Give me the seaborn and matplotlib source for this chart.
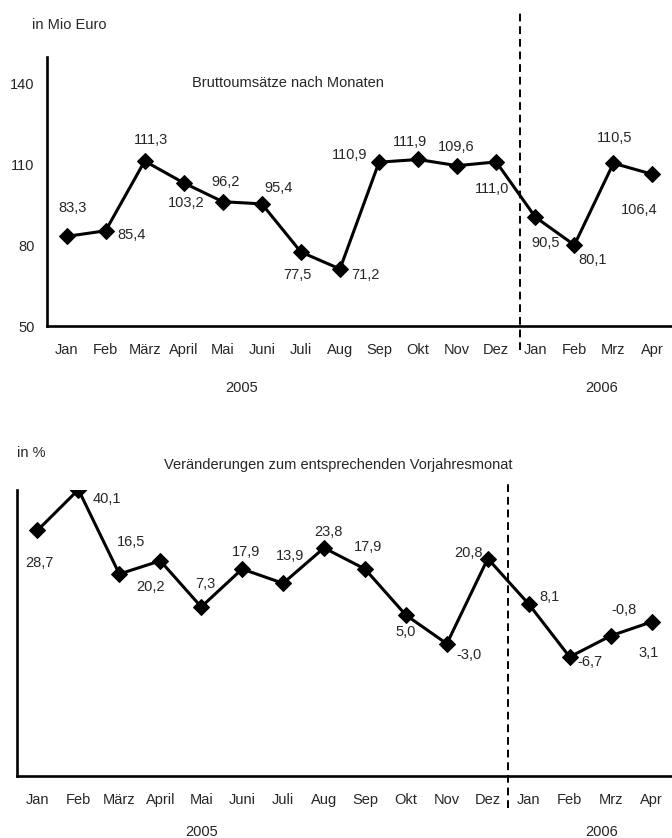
import matplotlib
matplotlib.use("Agg")
import matplotlib.pyplot as plt
import seaborn as sns
import pandas as pd

# Monthly data, Jan 2005 – Apr 2006
months = ["Jan", "Feb", "März", "April", "Mai", "Juni", "Juli", "Aug",
          "Sep", "Okt", "Nov", "Dez", "Jan", "Feb", "Mrz", "Apr"]
umsatz = [83.3, 85.4, 111.3, 103.2, 96.2, 95.4, 77.5, 71.2,
          110.9, 111.9, 109.6, 111.0, 90.5, 80.1, 110.5, 106.4]
veraenderung = [28.7, 40.1, 16.5, 20.2, 7.3, 17.9, 13.9, 23.8,
                17.9, 5.0, -3.0, 20.8, 8.1, -6.7, -0.8, 3.1]
umsatz_ticks = [50, 80, 110, 140]
years = ["2005", "2006"]

# label offsets in pixels (right, down) relative to each marker
umsatz_off = [(6, -28), (26, 4), (6, -21), (2, 20), (3, -20), (17, -16),
              (-3, 23), (25, 6), (-29, -7), (-8, -17), (-1, -19), (-4, 27),
              (10, 26), (18, 15), (1, -25), (-13, 36)]
veraend_off = [(2, 33), (28, 9), (12, -32), (-10, 26), (4, -23), (4, -17),
               (7, -27), (4, -16), (3, -22), (0, 17), (22, 11), (-19, -6),
               (21, -7), (20, 5), (13, -26), (-3, 31)]

sns.set_style("white")
plt.rcParams["font.family"] = ["Liberation Sans", "DejaVu Sans"]
plt.rcParams["font.size"] = 10.5

W, H = 672, 838
fig = plt.figure(figsize=(W / 100, H / 100), dpi=100)

def px_axes(left, top, right, bottom):
    return fig.add_axes([left / W, 1 - bottom / H, (right - left) / W, (bottom - top) / H])

ax1 = px_axes(47, 57, 672, 326)
ax2 = px_axes(17, 490, 672, 776)

df = pd.DataFrame({"i": range(len(months)), "umsatz": umsatz, "veraenderung": veraenderung})

def fmt(v):
    return f"{v:.1f}".replace(".", ",")

def draw(ax, col, offsets, xmax, ylim):
    sns.lineplot(data=df, x="i", y=col, ax=ax, color="black", linewidth=2.2,
                 marker="D", markersize=8, markeredgecolor="black")
    ax.set_xlim(-0.5, xmax)
    ax.set_ylim(*ylim)
    ax.set_xlabel("")
    ax.set_ylabel("")
    for s in ("top", "right"):
        ax.spines[s].set_visible(False)
    for s in ("left", "bottom"):
        ax.spines[s].set_linewidth(1.9)
        ax.spines[s].set_color("black")
    ax.set_xticks(list(df["i"]))
    ax.set_xticklabels(months)
    ax.tick_params(axis="x", which="major", length=0, pad=12, labelsize=10.5)
    ax.set_xticks([i - 0.5 for i in range(len(months) + 1)], minor=True)
    ax.tick_params(axis="x", which="minor", length=5, width=1.6, color="black", direction="out")
    for i, v in enumerate(df[col]):
        dx, dy = offsets[i]
        ax.annotate(fmt(v), (i, v), xytext=(dx, -dy), textcoords="offset pixels",
                    ha="center", va="center", fontsize=10.5)

draw(ax1, "umsatz", umsatz_off, 15.32, (50, 150))
ax1.set_yticks(umsatz_ticks)
ax1.tick_params(axis="y", length=5, width=1.6, color="black", direction="out", pad=4, labelsize=10.5)

draw(ax2, "veraenderung", veraend_off, 15.40, (-40, 40))
ax2.set_yticks([])

# year separator
ax1.axvline(11.62, ymin=-0.089, ymax=1.164, color="black", linestyle=(0, (4, 2.5)),
            linewidth=1.4, clip_on=False)
ax2.axvline(11.5, ymin=-0.112, ymax=1.028, color="black", linestyle=(0, (4, 2.5)),
            linewidth=1.4, clip_on=False)

def ftext(x, y, s, ha="center"):
    fig.text(x / W, 1 - y / H, s, ha=ha, va="center", fontsize=10.5)

ftext(32, 25, "in Mio Euro", ha="left")
ftext(288, 83, "Bruttoumsätze nach Monaten")
ftext(242, 388, years[0])
ftext(602, 388, years[1])

ftext(17, 453, "in %", ha="left")
ftext(338, 465, "Veränderungen zum entsprechenden Vorjahresmonat")
ftext(202, 832, years[0])
ftext(602, 832, years[1])

fig.savefig("out.png", dpi=100)
